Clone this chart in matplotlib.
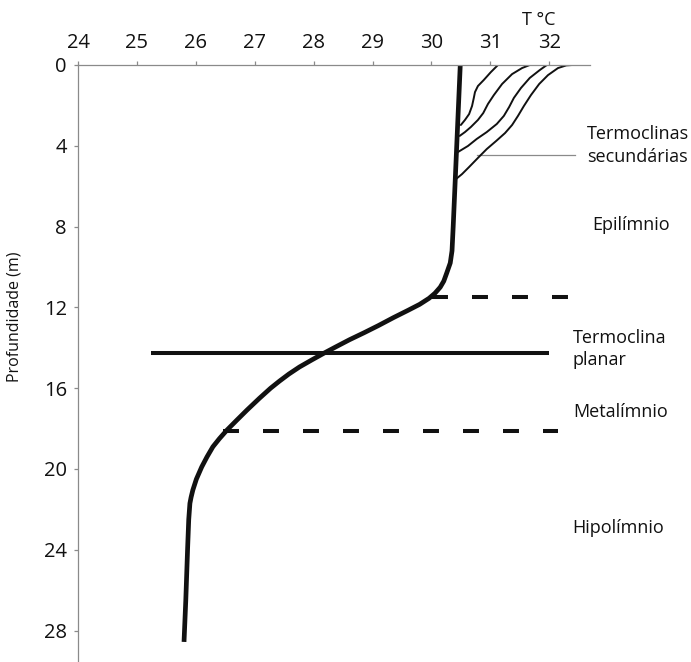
import matplotlib
matplotlib.use("Agg")
import matplotlib.pyplot as plt

plt.rcParams['font.family'] = ['Open Sans', 'DejaVu Sans']
plt.rcParams['lines.scale_dashes'] = False

# ---- data (temperature °C, depth m) ----
main_temp = [30.49, 30.46, 30.43, 30.40, 30.37, 30.35, 30.32, 30.26, 30.21, 30.15,
             30.06, 29.96, 29.80, 29.60, 29.36, 29.10, 28.86, 28.61, 28.38, 28.18,
             27.97, 27.76, 27.58, 27.42, 27.27, 27.08, 26.87, 26.69, 26.53, 26.40,
             26.29, 26.19, 26.10, 26.01, 25.95, 25.92, 25.90, 25.88, 25.86, 25.83, 25.80]
main_depth = [0.0, 2.0, 4.0, 6.0, 8.0, 9.2, 9.8, 10.3, 10.7, 11.0,
              11.3, 11.55, 11.85, 12.15, 12.5, 12.9, 13.25, 13.6, 13.95, 14.26,
              14.6, 14.95, 15.3, 15.65, 16.0, 16.5, 17.08, 17.6, 18.07, 18.5,
              18.9, 19.4, 19.9, 20.5, 21.04, 21.4, 21.7, 22.5, 24.0, 26.5, 28.56]

sec1_temp = [31.13, 31.01, 30.89, 30.79, 30.74, 30.72, 30.69, 30.64, 30.57, 30.50]
sec1_depth = [0.0, 0.35, 0.74, 1.04, 1.34, 1.63, 2.03, 2.43, 2.72, 2.97]
sec2_temp = [31.67, 31.54, 31.37, 31.20, 31.06, 30.96, 30.88, 30.79, 30.67, 30.57, 30.48]
sec2_depth = [0.0, 0.15, 0.45, 0.94, 1.49, 1.93, 2.38, 2.72, 3.07, 3.32, 3.51]
sec3_temp = [31.96, 31.84, 31.67, 31.52, 31.40, 31.32, 31.23, 31.11, 30.94, 30.77, 30.62, 30.45]
sec3_depth = [0.0, 0.25, 0.64, 1.14, 1.63, 2.08, 2.52, 2.92, 3.32, 3.66, 4.01, 4.31]
sec4_temp = [32.39, 32.29, 32.15, 31.98, 31.83, 31.69, 31.57, 31.47, 31.37, 31.25,
             31.10, 30.94, 30.79, 30.64, 30.52, 30.42]
sec4_depth = [0.0, 0.02, 0.15, 0.50, 0.94, 1.49, 2.03, 2.52, 2.97, 3.37,
              3.76, 4.16, 4.60, 5.05, 5.40, 5.64]

planar_depth = 14.25
planar_range = [25.24, 32.00]
upper_dash_depth = 11.5
upper_dash_range = [30.01, 32.32]
lower_dash_depth = 18.1
lower_dash_range = [26.46, 32.15]
leader_depth = 4.46
leader_range = [30.77, 32.44]

x_ticks = [24, 25, 26, 27, 28, 29, 30, 31, 32]
y_ticks = [0, 4, 8, 12, 16, 20, 24, 28]

labels = [
    ("Termoclinas", 32.64, 3.42),
    ("secundárias", 32.64, 4.55),
    ("Epilímnio", 32.73, 7.92),
    ("Termoclina", 32.40, 13.5),
    ("planar", 32.40, 14.6),
    ("Metalímnio", 32.40, 17.2),
    ("Hipolímnio", 32.39, 22.9),
]

W, H = 691, 662
fig = plt.figure(figsize=(W / 100, H / 100), dpi=100)
ax = fig.add_axes([78 / W, 0, 512 / W, 597 / H])
ax.set_xlim(24, 24 + 512 / 58.9)
ax.set_ylim(597 / 20.2, 0)

ink = '#111111'
ax.plot(planar_range, [planar_depth] * 2, color=ink, lw=2.9, solid_capstyle='butt')
for rng, d in [(upper_dash_range, upper_dash_depth), (lower_dash_range, lower_dash_depth)]:
    ax.plot(rng, [d] * 2, color=ink, lw=2.9, dashes=(11.5, 17.3), dash_capstyle='butt')
ax.plot(leader_range, [leader_depth] * 2, color='#8a8a8a', lw=0.9)
for t, d in [(sec1_temp, sec1_depth), (sec2_temp, sec2_depth),
             (sec3_temp, sec3_depth), (sec4_temp, sec4_depth)]:
    ax.plot(t, d, color=ink, lw=1.4, solid_joinstyle='round', solid_capstyle='round')
ax.plot(main_temp, main_depth, color=ink, lw=3.4, solid_joinstyle='round', solid_capstyle='butt')

ax.xaxis.tick_top()
ax.set_xticks(x_ticks)
ax.set_yticks(y_ticks)
for s in ['right', 'bottom']:
    ax.spines[s].set_visible(False)
for s in ['top', 'left']:
    ax.spines[s].set_color('#8a8a8a')
    ax.spines[s].set_linewidth(0.9)
ax.tick_params(axis='x', which='both', direction='out', length=3, width=0.9,
               color='#8a8a8a', pad=6, labelsize=14.5, labelcolor=ink)
ax.tick_params(axis='y', which='both', direction='out', length=3, width=0.9,
               color='#8a8a8a', pad=5, labelsize=14.5, labelcolor=ink)

ax.set_ylabel("Profundidade (m)", fontsize=11.5, color=ink,
              family=['Liberation Sans Narrow', 'Open Sans', 'DejaVu Sans'])
ax.yaxis.set_label_coords(-0.109, 0.578)

ax.text(31.54, -2.23, "T °C", fontsize=13, color=ink, ha='left', va='center', clip_on=False)
for txt, x, y in labels:
    ax.text(x, y, txt, fontsize=13, color=ink, ha='left', va='center', clip_on=False)

fig.savefig("out.png", dpi=100)
